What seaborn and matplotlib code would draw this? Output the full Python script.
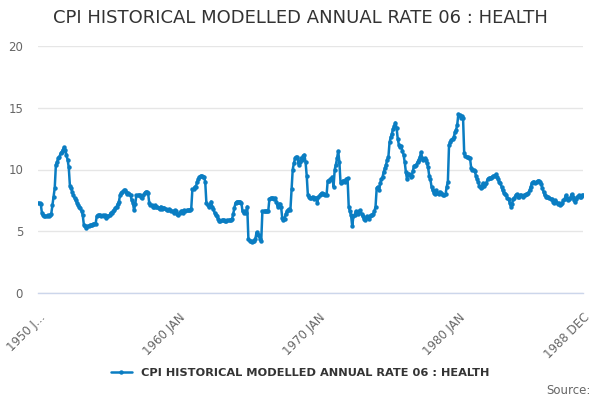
import numpy as np
import pandas as pd
import matplotlib
matplotlib.use("Agg")
import matplotlib.pyplot as plt
import seaborn as sns

# monthly annual rate, Jan 1950 .. Dec 1988
rate_1950s = [
    7.3, 7.3, 7.2, 6.5, 6.3, 6.2, 6.2, 6.2, 6.3, 6.2, 6.3, 6.4,
    7.1, 7.8, 8.5, 10.4, 10.6, 10.9, 11.0, 11.3, 11.4, 11.6, 11.8, 11.6,
    11.2, 10.8, 10.2, 8.7, 8.5, 8.2, 7.9, 7.7, 7.5, 7.3, 7.1, 7.0,
    6.9, 6.6, 6.3, 5.5, 5.4, 5.3, 5.4, 5.4, 5.5, 5.5, 5.5, 5.6,
    5.6, 5.6, 6.2, 6.3, 6.3, 6.3, 6.2, 6.3, 6.2, 6.3, 6.1, 6.2,
    6.2, 6.3, 6.5, 6.5, 6.6, 6.7, 6.9, 7.0, 7.2, 7.4, 7.9, 8.1,
    8.2, 8.3, 8.3, 8.2, 8.0, 8.1, 8.0, 7.9, 7.5, 7.3, 6.7, 7.2,
    7.9, 7.9, 7.9, 7.9, 7.8, 7.7, 7.9, 8.1, 8.2, 8.2, 8.1, 7.3,
    7.1, 7.1, 7.0, 7.0, 7.1, 7.0, 7.0, 6.9, 6.8, 7.0, 6.8, 6.9,
    6.9, 6.8, 6.7, 6.7, 6.8, 6.7, 6.6, 6.6, 6.5, 6.7, 6.6, 6.4,
]
rate_1960s = [
    6.3, 6.5, 6.6, 6.6, 6.5, 6.7, 6.6, 6.7, 6.7, 6.7, 6.7, 6.8,
    8.4, 8.4, 8.6, 8.6, 9.0, 9.2, 9.4, 9.5, 9.5, 9.4, 9.4, 9.0,
    7.3, 7.1, 7.0, 7.1, 7.4, 7.0, 6.8, 6.5, 6.3, 6.2, 6.0, 5.8,
    5.8, 5.9, 5.9, 5.9, 5.8, 5.8, 5.9, 5.9, 5.9, 5.9, 6.0, 6.4,
    6.9, 7.3, 7.4, 7.4, 7.4, 7.4, 7.3, 6.6, 6.5, 6.6, 6.5, 7.0,
    4.4, 4.2, 4.2, 4.1, 4.2, 4.2, 4.4, 4.9, 4.7, 4.7, 4.4, 4.2,
    6.6, 6.6, 6.6, 6.6, 6.6, 6.6, 7.6, 7.7, 7.7, 7.7, 7.6, 7.7,
    7.4, 7.0, 7.2, 7.2, 7.0, 6.1, 5.9, 6.0, 6.4, 6.6, 6.7, 6.8,
    6.7, 8.4, 10.0, 10.5, 10.9, 11.0, 11.0, 10.4, 10.6, 10.9, 10.8, 11.1,
    11.2, 10.6, 9.5, 7.9, 7.8, 7.7, 7.7, 7.8, 7.6, 7.7, 7.7, 7.3,
]
rate_1970s = [
    7.8, 7.9, 8.0, 8.1, 8.0, 8.0, 7.9, 7.9, 9.1, 9.1, 9.2, 9.2,
    9.4, 8.6, 10.0, 10.4, 10.9, 11.5, 10.6, 8.9, 9.0, 9.1, 9.1, 9.0,
    9.2, 9.3, 7.0, 6.6, 6.3, 5.4, 6.2, 6.3, 6.6, 6.5, 6.4, 6.6,
    6.7, 6.4, 6.2, 6.0, 5.9, 6.1, 6.2, 6.0, 6.2, 6.3, 6.3, 6.4,
    6.6, 7.0, 8.5, 8.6, 8.3, 8.9, 9.2, 9.4, 9.8, 10.1, 10.4, 10.8,
    11.0, 12.2, 12.6, 12.9, 13.3, 13.5, 13.8, 13.4, 12.5, 12.0, 11.8, 11.9,
    11.5, 11.2, 10.6, 9.8, 9.2, 9.6, 9.6, 9.4, 9.5, 9.9, 10.3, 10.3,
    10.4, 10.6, 10.8, 11.0, 11.4, 10.9, 10.8, 10.9, 10.8, 10.5, 10.2, 9.5,
    9.2, 8.6, 8.3, 8.1, 8.0, 8.3, 8.1, 8.0, 8.2, 8.1, 8.0, 7.9,
    7.9, 8.0, 8.6, 9.0, 12.0, 12.2, 12.4, 12.5, 12.6, 13.0, 13.2, 13.6,
]
rate_1980s = [
    14.5, 14.4, 14.2, 14.3, 14.2, 11.3, 11.1, 11.0, 11.0, 10.9, 10.9, 10.1,
    10.0, 10.0, 9.9, 9.5, 9.2, 9.0, 8.7, 8.5, 8.6, 8.9, 8.7, 8.8,
    8.9, 9.2, 9.3, 9.3, 9.3, 9.4, 9.5, 9.5, 9.6, 9.4, 9.2, 9.0,
    8.9, 8.6, 8.3, 8.1, 8.0, 7.9, 7.7, 7.6, 7.3, 7.0, 7.2, 7.6,
    7.7, 7.9, 8.0, 7.8, 7.8, 7.9, 7.9, 7.8, 7.9, 7.9, 8.0, 8.0,
    8.1, 8.3, 8.6, 8.9, 9.0, 9.0, 8.9, 9.0, 9.1, 9.1, 9.0, 8.8,
    8.5, 8.2, 7.9, 7.8, 7.8, 7.8, 7.7, 7.6, 7.6, 7.4, 7.3, 7.5,
    7.4, 7.2, 7.3, 7.1, 7.2, 7.3, 7.5, 7.6, 7.9, 7.7, 7.5, 7.6,
    7.7, 8.0, 7.8, 7.5, 7.4, 7.6, 7.8, 7.9, 7.8, 7.8, 7.9, 7.9,
]

series_name = "CPI HISTORICAL MODELLED ANNUAL RATE 06 : HEALTH"
tick_months = list(range(0, 451, 30)) + [467]
tick_text = {0: "1950 J...", 120: "1960 JAN", 240: "1970 JAN", 360: "1980 JAN", 467: "1988 DEC"}

rates = rate_1950s + rate_1960s + rate_1970s + rate_1980s
df = pd.DataFrame({"month": np.arange(len(rates)), "rate": rates})

sns.set_style("white")
plt.rcParams["font.family"] = ["DejaVu Sans"]

fig = plt.figure(figsize=(6, 4), dpi=100)
ax = fig.add_axes([0.064, 0.2675, 0.908, 0.6175])

blue = "#0a7dc2"
sns.lineplot(data=df, x="month", y="rate", ax=ax, color=blue, linewidth=1.8,
             marker="o", markersize=3.2, markeredgewidth=0, label=series_name)

ax.set_xlim(0, 467)
ax.set_ylim(0, 20)
ax.set_yticks([0, 5, 10, 15, 20])
ax.yaxis.grid(True, color="#e6e6e6", linewidth=1)
ax.set_axisbelow(True)
for s in ["left", "right", "top"]:
    ax.spines[s].set_visible(False)
ax.spines["bottom"].set_color("#ccd6eb")
ax.spines["bottom"].set_linewidth(1)

ax.set_xticks(tick_months)
ax.set_xticklabels([tick_text.get(m, "") for m in tick_months], rotation=45,
                   ha="right", rotation_mode="anchor", fontsize=8.5, color="#666666")
ax.tick_params(axis="x", direction="out", length=10, width=1, color="#ccd6eb", pad=3)
ax.tick_params(axis="y", length=0, labelsize=8.5, labelcolor="#666666", pad=11)
ax.set_xlabel("")
ax.set_ylabel("")

fig.text(0.5, 0.955, "CPI HISTORICAL MODELLED ANNUAL RATE 06 : HEALTH",
         ha="center", va="center", fontsize=13, color="#333333")

ax.legend(loc="center", bbox_to_anchor=(0.5, 0.067), bbox_transform=fig.transFigure,
          frameon=False, handlelength=1.8, prop={"weight": "bold", "size": 8.2})
for t in ax.get_legend().get_texts():
    t.set_color("#333333")

fig.text(0.985, 0.025, "Source:", ha="right", va="center", fontsize=8.5, color="#666666")

fig.savefig("out.png", dpi=100)
